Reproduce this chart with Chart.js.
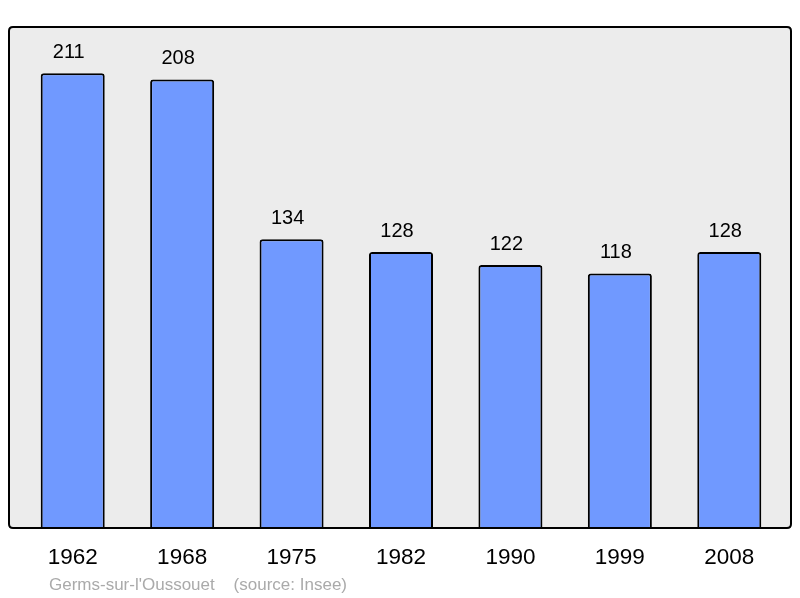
<!DOCTYPE html>
<html><head><meta charset="utf-8">
<script src="https://cdn.jsdelivr.net/npm/chart.js@4/dist/chart.umd.min.js"></script>
<style>html,body{margin:0;padding:0;background:#fff}#wrap{width:800px;height:598px}</style>
</head><body><div id="wrap"><canvas id="c" width="800" height="598"></canvas></div>
<script>
const years = ["1962","1968","1975","1982","1990","1999","2008"];
const population = [211,208,134,128,122,118,128];
const footerText = "Germs-sur-l'Oussouet    (source: Insee)";

const framePlugin = {
  id: 'frame',
  beforeDatasetsDraw(chart) {
    const {ctx, chartArea: a} = chart;
    ctx.save();
    ctx.fillStyle = '#ececec';
    roundRect(ctx, a.left - 9, a.top, a.right - a.left + 16, a.bottom - a.top, 4);
    ctx.fill();
    ctx.restore();
  },
  afterDatasetsDraw(chart) {
    const {ctx, chartArea: a} = chart;
    ctx.save();
    ctx.strokeStyle = '#000';
    ctx.lineWidth = 2;
    roundRect(ctx, a.left - 9, a.top, a.right - a.left + 16, a.bottom - a.top, 4);
    ctx.stroke();
    // value labels
    const meta = chart.getDatasetMeta(0);
    ctx.fillStyle = '#000';
    ctx.font = '20px "Liberation Sans", Arial, sans-serif';
    ctx.textAlign = 'center';
    ctx.textBaseline = 'middle';
    meta.data.forEach((el, i) => {
      ctx.fillText(String(population[i]), el.x - 4, el.y - 21);
    });
    // x labels
    const xs = chart.scales.x;
    ctx.font = '22.5px "Liberation Sans", Arial, sans-serif';
    years.forEach((y, i) => {
      ctx.fillText(y, xs.getPixelForValue(i), a.bottom + 30);
    });
    // footer
    ctx.font = '17px "Liberation Sans", Arial, sans-serif';
    ctx.fillStyle = '#aaaaaa';
    ctx.textAlign = 'left';
    ctx.fillText(footerText, 49, a.bottom + 57);
    ctx.restore();
  }
};
function roundRect(ctx, x, y, w, h, r) {
  ctx.beginPath();
  ctx.moveTo(x + r, y);
  ctx.lineTo(x + w - r, y);
  ctx.quadraticCurveTo(x + w, y, x + w, y + r);
  ctx.lineTo(x + w, y + h - r);
  ctx.quadraticCurveTo(x + w, y + h, x + w - r, y + h);
  ctx.lineTo(x + r, y + h);
  ctx.quadraticCurveTo(x, y + h, x, y + h - r);
  ctx.lineTo(x, y + r);
  ctx.quadraticCurveTo(x, y, x + r, y);
  ctx.closePath();
}

new Chart(document.getElementById('c'), {
  type: 'bar',
  data: {
    labels: years,
    datasets: [{
      data: population,
      backgroundColor: '#7099ff',
      borderColor: '#000',
      borderWidth: 2,
      borderRadius: 3,
      borderSkipped: 'start',
      barPercentage: 0.585,
      categoryPercentage: 1
    }]
  },
  options: {
    responsive: false,
    animation: false,
    devicePixelRatio: 1,
    layout: { padding: { left: 18, right: 16, top: 27, bottom: 70 } },
    plugins: { legend: { display: false }, tooltip: { enabled: false } },
    scales: {
      x: { display: false },
      y: { display: false, min: 0, max: 232.4 }
    }
  },
  plugins: [framePlugin]
});
</script></body></html>
